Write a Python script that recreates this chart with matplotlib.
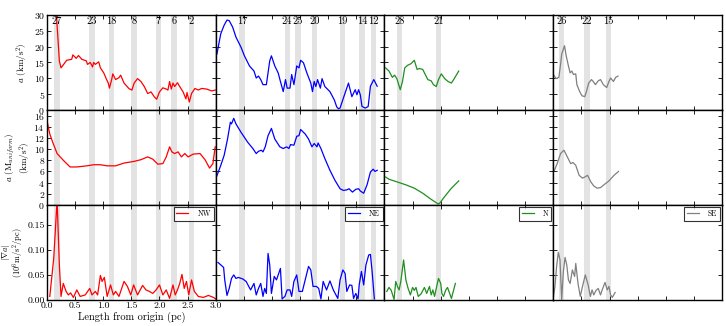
import matplotlib
matplotlib.use("Agg")
import matplotlib.pyplot as plt
import matplotlib.transforms as mtransforms
import numpy as np

plt.rcParams['font.family'] = ['cmr10', 'DejaVu Serif']
plt.rcParams['mathtext.fontset'] = 'cm'
plt.rcParams['axes.formatter.use_mathtext'] = True
plt.rcParams['axes.unicode_minus'] = False

regions = ["NW", "NE", "N", "SE"]
colors = ["red", "blue", "#1f8f1f", "gray"]

# band positions (pc) and their labels for each region
band_centers = {
    "NW": [0.18, 0.80, 1.15, 1.55, 1.98, 2.26, 2.57],
    "NE": [0.47, 1.27, 1.46, 1.76, 2.25, 2.60, 2.81],
    "N": [0.27, 0.96],
    "SE": [0.15, 0.60, 0.98],
}
band_labels = {
    "NW": ["27", "23", "18", "8", "7", "6", "2"],
    "NE": ["17", "24", "25", "20", "19", "14", "12"],
    "N": ["28", "21"],
    "SE": ["26", "22", "15"],
}
band_width = 0.095

# ---- top row: a (km/s^2)
nw_a_x = [0.16, 0.19, 0.22, 0.25, 0.28, 0.35, 0.44, 0.46, 0.52, 0.56, 0.62, 0.70, 0.72, 0.77, 0.81, 0.83, 0.86, 0.92, 0.95, 1.01, 1.06, 1.09, 1.11, 1.15, 1.17, 1.22, 1.28, 1.31, 1.37, 1.46, 1.51, 1.55, 1.61, 1.67, 1.73, 1.79, 1.85, 1.91, 1.95, 2.00, 2.06, 2.12, 2.15, 2.18, 2.21, 2.24, 2.27, 2.32, 2.36, 2.42, 2.47, 2.49, 2.53, 2.57, 2.63, 2.69, 2.75, 2.84, 2.93, 2.99]
nw_a_y = [32.0, 24.0, 15.5, 13.3, 14.0, 15.7, 16.0, 17.4, 16.3, 17.2, 16.0, 15.5, 14.4, 15.0, 13.6, 15.0, 14.4, 15.2, 13.3, 11.7, 9.6, 8.5, 6.9, 9.6, 11.4, 9.6, 10.2, 11.0, 8.5, 6.7, 6.3, 8.5, 9.9, 9.0, 7.4, 5.2, 5.7, 4.1, 3.4, 5.7, 7.0, 6.6, 6.3, 9.0, 6.6, 8.5, 7.4, 8.6, 7.4, 5.7, 3.5, 5.5, 2.5, 5.2, 6.8, 6.3, 6.8, 6.6, 6.0, 6.3]

ne_a_x = [0.02, 0.09, 0.15, 0.20, 0.24, 0.30, 0.36, 0.45, 0.51, 0.60, 0.68, 0.72, 0.76, 0.80, 0.84, 0.90, 0.96, 0.99, 1.05, 1.11, 1.15, 1.20, 1.24, 1.27, 1.32, 1.35, 1.39, 1.44, 1.48, 1.51, 1.56, 1.62, 1.69, 1.72, 1.75, 1.78, 1.81, 1.86, 1.89, 1.94, 2.03, 2.11, 2.15, 2.18, 2.21, 2.27, 2.36, 2.42, 2.48, 2.51, 2.54, 2.57, 2.60, 2.66, 2.71, 2.75, 2.81, 2.87]
ne_a_y = [17.6, 24.1, 26.8, 28.4, 28.2, 26.2, 23.0, 19.8, 17.1, 13.9, 12.3, 10.1, 10.7, 9.6, 8.0, 8.0, 15.5, 17.1, 13.9, 11.7, 9.0, 5.8, 9.6, 6.9, 6.9, 11.2, 8.0, 13.9, 13.3, 15.7, 14.9, 11.7, 8.5, 5.8, 9.0, 7.4, 9.6, 6.9, 9.9, 7.4, 5.8, 3.1, 1.0, 0.4, 0.6, 3.8, 8.5, 4.2, 6.4, 4.8, 6.4, 4.8, 1.1, 0.6, 1.1, 7.5, 9.6, 7.5]

n_a_x = [0.02, 0.08, 0.14, 0.18, 0.22, 0.28, 0.32, 0.36, 0.41, 0.47, 0.53, 0.58, 0.62, 0.68, 0.77, 0.83, 0.87, 0.92, 0.96, 1.01, 1.07, 1.13, 1.19, 1.24, 1.32]
n_a_y = [13.3, 12.3, 10.3, 11.0, 9.9, 6.4, 9.0, 13.3, 14.1, 14.6, 15.7, 12.8, 13.1, 12.8, 9.6, 9.2, 8.0, 7.4, 9.6, 11.4, 9.9, 9.0, 8.5, 9.9, 12.3]

se_a_x = [0.01, 0.05, 0.10, 0.13, 0.15, 0.20, 0.23, 0.27, 0.30, 0.33, 0.36, 0.40, 0.42, 0.47, 0.51, 0.56, 0.59, 0.63, 0.68, 0.71, 0.75, 0.80, 0.84, 0.89, 0.95, 0.99, 1.02, 1.07, 1.11, 1.15]
se_a_y = [11.0, 9.9, 10.3, 14.4, 17.6, 20.3, 17.1, 13.9, 11.7, 12.3, 11.2, 11.4, 8.0, 5.8, 4.5, 4.2, 5.8, 8.5, 9.6, 9.0, 8.0, 9.2, 9.6, 8.0, 7.1, 9.0, 10.1, 9.0, 10.3, 10.7]

# ---- middle row: a (M_uniform)
nw_m_x = [0.00, 0.05, 0.11, 0.18, 0.29, 0.41, 0.53, 0.71, 0.83, 0.95, 1.07, 1.22, 1.37, 1.55, 1.67, 1.79, 1.88, 1.97, 2.06, 2.12, 2.18, 2.22, 2.27, 2.33, 2.39, 2.45, 2.51, 2.60, 2.72, 2.81, 2.89, 2.95, 2.99]
nw_m_y = [15.1, 12.7, 11.0, 9.2, 8.0, 6.8, 6.8, 7.0, 7.2, 7.2, 7.0, 7.0, 7.5, 7.8, 8.1, 8.6, 8.2, 7.3, 7.4, 8.6, 10.4, 9.5, 9.2, 9.5, 8.6, 9.2, 8.6, 9.1, 9.2, 8.1, 6.6, 7.4, 10.4]

ne_m_x = [0.02, 0.09, 0.15, 0.21, 0.26, 0.28, 0.32, 0.36, 0.45, 0.57, 0.66, 0.72, 0.76, 0.81, 0.84, 0.88, 0.93, 0.99, 1.05, 1.14, 1.20, 1.26, 1.30, 1.33, 1.39, 1.44, 1.48, 1.51, 1.59, 1.65, 1.71, 1.75, 1.80, 1.82, 1.87, 1.94, 2.03, 2.12, 2.21, 2.27, 2.33, 2.37, 2.43, 2.49, 2.54, 2.57, 2.63, 2.69, 2.75, 2.80, 2.83, 2.87]
ne_m_y = [5.2, 7.1, 8.9, 11.8, 14.8, 14.5, 15.5, 14.5, 13.0, 11.2, 10.1, 9.2, 9.6, 9.8, 9.5, 10.4, 12.4, 13.7, 11.8, 10.4, 10.1, 10.4, 10.1, 10.8, 10.7, 12.3, 12.4, 13.5, 12.7, 11.8, 10.4, 11.0, 10.4, 11.1, 10.1, 8.3, 6.2, 4.4, 2.9, 2.6, 2.7, 2.9, 2.3, 2.8, 2.9, 2.5, 2.1, 3.6, 5.9, 6.4, 6.0, 6.2]

n_m_x = [0.02, 0.08, 0.23, 0.38, 0.53, 0.68, 0.83, 0.95, 0.98, 1.07, 1.19, 1.32]
n_m_y = [5.0, 4.6, 4.1, 3.6, 3.0, 2.1, 1.0, 0.2, 0.3, 1.5, 3.0, 4.3]

se_m_x = [0.02, 0.07, 0.13, 0.19, 0.25, 0.31, 0.35, 0.40, 0.46, 0.52, 0.56, 0.61, 0.67, 0.72, 0.78, 0.84, 0.90, 0.99, 1.08, 1.16]
se_m_y = [6.2, 7.4, 9.2, 9.8, 8.6, 7.4, 7.6, 7.1, 5.3, 4.8, 5.0, 5.3, 4.1, 3.4, 3.0, 3.1, 3.6, 4.3, 5.3, 6.0]

# ---- bottom row: |grad a|
nw_g_x = [0.05, 0.12, 0.18, 0.22, 0.25, 0.29, 0.34, 0.38, 0.42, 0.47, 0.53, 0.59, 0.68, 0.76, 0.80, 0.86, 0.90, 0.95, 0.98, 1.02, 1.07, 1.13, 1.18, 1.22, 1.28, 1.37, 1.43, 1.49, 1.54, 1.61, 1.70, 1.76, 1.82, 1.88, 1.94, 2.00, 2.06, 2.12, 2.18, 2.24, 2.28, 2.32, 2.36, 2.40, 2.44, 2.48, 2.52, 2.57, 2.62, 2.69, 2.78, 2.87, 2.96, 3.00]
nw_g_y = [0.007, 0.083, 0.200, 0.070, 0.007, 0.033, 0.017, 0.010, 0.014, 0.005, 0.020, 0.007, 0.010, 0.023, 0.010, 0.017, 0.010, 0.049, 0.037, 0.045, 0.007, 0.030, 0.010, 0.017, 0.007, 0.037, 0.027, 0.010, 0.030, 0.010, 0.029, 0.020, 0.017, 0.013, 0.020, 0.030, 0.010, 0.020, 0.003, 0.030, 0.010, 0.020, 0.033, 0.051, 0.023, 0.037, 0.010, 0.040, 0.017, 0.007, 0.005, 0.009, 0.005, 0.002]

ne_g_x = [0.04, 0.09, 0.14, 0.16, 0.20, 0.24, 0.28, 0.32, 0.36, 0.40, 0.48, 0.54, 0.62, 0.68, 0.72, 0.76, 0.80, 0.84, 0.87, 0.90, 0.93, 0.96, 0.99, 1.04, 1.08, 1.15, 1.18, 1.23, 1.27, 1.32, 1.35, 1.39, 1.44, 1.48, 1.54, 1.59, 1.65, 1.69, 1.73, 1.79, 1.83, 1.87, 1.91, 1.97, 2.03, 2.09, 2.17, 2.21, 2.26, 2.30, 2.33, 2.38, 2.42, 2.45, 2.49, 2.53, 2.55, 2.59, 2.63, 2.67, 2.72, 2.75, 2.78, 2.82]
ne_g_y = [0.075, 0.070, 0.065, 0.040, 0.009, 0.023, 0.043, 0.050, 0.043, 0.045, 0.042, 0.037, 0.020, 0.033, 0.010, 0.023, 0.033, 0.007, 0.023, 0.013, 0.093, 0.070, 0.013, 0.047, 0.040, 0.063, 0.002, 0.007, 0.020, 0.020, 0.007, 0.037, 0.050, 0.017, 0.017, 0.040, 0.067, 0.060, 0.027, 0.027, 0.023, 0.002, 0.037, 0.020, 0.038, 0.020, 0.003, 0.040, 0.060, 0.053, 0.017, 0.030, 0.029, 0.003, 0.013, 0.002, 0.030, 0.057, 0.030, 0.070, 0.090, 0.091, 0.057, 0.002]

n_g_x = [0.04, 0.08, 0.12, 0.17, 0.20, 0.23, 0.26, 0.29, 0.34, 0.38, 0.42, 0.46, 0.50, 0.53, 0.56, 0.60, 0.65, 0.71, 0.75, 0.80, 0.83, 0.86, 0.89, 0.92, 0.96, 1.00, 1.02, 1.05, 1.09, 1.12, 1.19, 1.26]
n_g_y = [0.017, 0.025, 0.019, 0.001, 0.037, 0.027, 0.020, 0.037, 0.080, 0.040, 0.023, 0.010, 0.025, 0.019, 0.025, 0.007, 0.012, 0.025, 0.013, 0.027, 0.010, 0.020, 0.007, 0.023, 0.043, 0.033, 0.013, 0.007, 0.020, 0.025, 0.003, 0.033]

se_g_x = [0.00, 0.03, 0.06, 0.09, 0.12, 0.15, 0.18, 0.21, 0.24, 0.27, 0.30, 0.34, 0.38, 0.40, 0.44, 0.48, 0.52, 0.57, 0.62, 0.66, 0.69, 0.72, 0.76, 0.80, 0.84, 0.87, 0.92, 0.96, 0.99, 1.02, 1.05, 1.10]
se_g_y = [0.003, 0.027, 0.067, 0.095, 0.080, 0.001, 0.057, 0.085, 0.070, 0.040, 0.033, 0.060, 0.047, 0.073, 0.033, 0.007, 0.027, 0.050, 0.030, 0.007, 0.020, 0.010, 0.019, 0.023, 0.010, 0.020, 0.035, 0.020, 0.027, 0.010, 0.005, 0.015]

rows = [
    [(nw_a_x, nw_a_y), (ne_a_x, ne_a_y), (n_a_x, n_a_y), (se_a_x, se_a_y)],
    [(nw_m_x, nw_m_y), (ne_m_x, ne_m_y), (n_m_x, n_m_y), (se_m_x, se_m_y)],
    [(nw_g_x, nw_g_y), (ne_g_x, ne_g_y), (n_g_x, n_g_y), (se_g_x, se_g_y)],
]

ylims = [(0, 30), (0, 17), (0, 0.19)]
yticks = [np.arange(0, 31, 5), np.arange(0, 17, 2), [0.0, 0.05, 0.10, 0.15]]
ytick_labels = [None, None, ["0.00", "0.05", "0.10", "0.15"]]
# y-axis label lines for each row (one or two lines, stacked left to right)
ylabel_lines = [[r"$a$ (km/s$^2$)"],
                [r"$a$ (M$_{uniform}$)", r"(km/s$^2$)"],
                [r"$|\nabla a|$", r"($10^6$m/s$^2$/pc)"]]
ylabel_xpos = [[-0.145], [-0.215, -0.13], [-0.245, -0.175]]
ylabel_fs = [6.5, 6.5, 6.0]
xticks = [0.0, 0.5, 1.0, 1.5, 2.0, 2.5, 3.0]

fig, axes = plt.subplots(3, 4, figsize=(7.26, 3.26), dpi=100)
fig.subplots_adjust(left=0.0647, right=0.9945, top=0.954, bottom=0.080,
                    wspace=0, hspace=0)

for r in range(3):
    for c in range(4):
        ax = axes[r, c]
        reg = regions[c]
        for xc in band_centers[reg]:
            ax.axvspan(xc - band_width / 2, xc + band_width / 2,
                       color="#e3e3e3", lw=0, zorder=0)
        xs, ys = rows[r][c]
        ax.plot(xs, ys, color=colors[c], lw=0.9, label=reg, zorder=2)
        ax.set_xlim(0, 3.0)
        ax.set_ylim(*ylims[r])
        ax.set_xticks(xticks)
        ax.set_yticks(yticks[r])
        ax.tick_params(direction="in", top=True, right=True, length=3,
                       width=0.6, labelsize=7, pad=1.5)
        for sp in ax.spines.values():
            sp.set_linewidth(1.0)
        if c == 0:
            if ytick_labels[r] is not None:
                ax.set_yticklabels(ytick_labels[r])
            for line, xp in zip(ylabel_lines[r], ylabel_xpos[r]):
                ax.text(xp, 0.5, line, transform=ax.transAxes, rotation=90,
                        ha="center", va="center", fontsize=ylabel_fs[r])
        else:
            ax.set_yticklabels([])
        if r == 2 and c == 0:
            ax.set_xticklabels(["0.0", "0.5", "1.0", "1.5", "2.0", "2.5", "3.0"])
            ax.set_xlabel("Length from origin (pc)", fontsize=7.5, labelpad=1)
        else:
            ax.set_xticklabels([])
        if r == 0:
            trans = mtransforms.blended_transform_factory(ax.transData, ax.transAxes)
            for xc, lab in zip(band_centers[reg], band_labels[reg]):
                ax.text(xc, 0.985, lab, transform=trans, ha="center", va="top",
                        fontsize=7.5)
        if r == 2:
            leg = ax.legend(loc="upper right", fontsize=5.5, fancybox=False,
                            handlelength=1.6, borderpad=0.35, frameon=True,
                            borderaxespad=0.25, handletextpad=1.2)
            leg.get_frame().set_edgecolor("black")
            leg.get_frame().set_linewidth(0.8)

fig.savefig("out.png", dpi=100)
